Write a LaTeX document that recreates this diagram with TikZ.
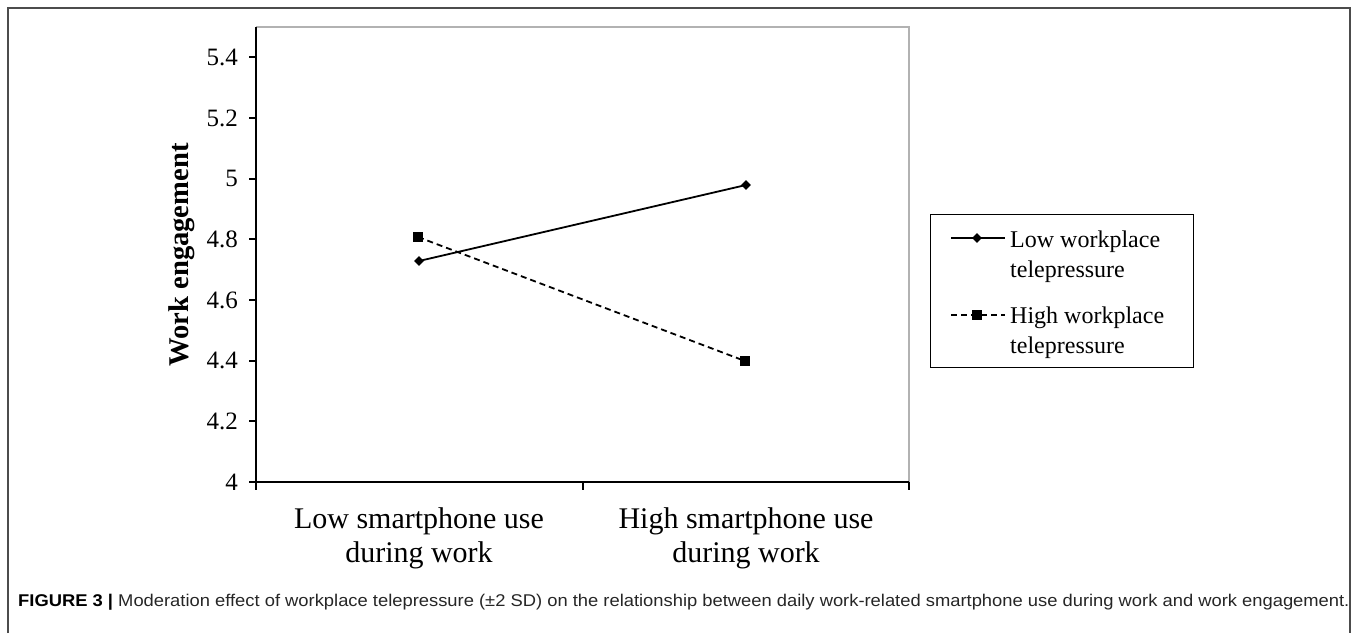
\documentclass[tikz,border=0pt]{standalone}
\usepackage{fontspec}
\setmainfont{Liberation Serif}
\newfontfamily\captionfont[FakeStretch=1.08]{Liberation Sans}
\usetikzlibrary{shapes.geometric,backgrounds}
\newcommand{\linecolor}{black}
\newcommand{\boxcolor}{gray!60}
\newcommand{\thickness}{1.8pt}
\newcommand{\marksize}{10pt}

\begin{document}
\begin{tikzpicture}[x=1pt,y=-1pt]
\useasboundingbox (0,0) rectangle (1358,633);
%frame
\draw[black!70] [line width = 1.2pt] (8,633) -- (8,8) -- (1350,8) -- (1350,633);
%plot area
\coordinate (o) at (256,482);
\coordinate (tl) at (256,27);
\coordinate (tr) at (909,27);
\coordinate (br) at (909,482);
\draw[\boxcolor] [line width = 1.5pt] (tl) -- (tr) -- (br);
\draw[\linecolor] [line width = \thickness] (tl) -- (o) -- (br);
%y ticks
\draw[\linecolor] [line width = \thickness] (249,482.0) -- (o);
\draw[\linecolor] [line width = \thickness] (249,421.3) -- (256,421.3);
\draw[\linecolor] [line width = \thickness] (249,360.7) -- (256,360.7);
\draw[\linecolor] [line width = \thickness] (249,300.0) -- (256,300.0);
\draw[\linecolor] [line width = \thickness] (249,239.3) -- (256,239.3);
\draw[\linecolor] [line width = \thickness] (249,178.7) -- (256,178.7);
\draw[\linecolor] [line width = \thickness] (249,118.0) -- (256,118.0);
\draw[\linecolor] [line width = \thickness] (249,57.3) -- (256,57.3);
\node[anchor=east, inner sep=0, font=\fontsize{25}{28}\selectfont] (t40) at (238,482.0) {4};
\node[anchor=east, inner sep=0, font=\fontsize{25}{28}\selectfont] (t42) at (238,421.3) {4.2};
\node[anchor=east, inner sep=0, font=\fontsize{25}{28}\selectfont] (t44) at (238,360.7) {4.4};
\node[anchor=east, inner sep=0, font=\fontsize{25}{28}\selectfont] (t46) at (238,300.0) {4.6};
\node[anchor=east, inner sep=0, font=\fontsize{25}{28}\selectfont] (t48) at (238,239.3) {4.8};
\node[anchor=east, inner sep=0, font=\fontsize{25}{28}\selectfont] (t50) at (238,178.7) {5};
\node[anchor=east, inner sep=0, font=\fontsize{25}{28}\selectfont] (t52) at (238,118.0) {5.2};
\node[anchor=east, inner sep=0, font=\fontsize{25}{28}\selectfont] (t54) at (238,57.3) {5.4};
%x ticks
\draw[\linecolor] [line width = \thickness] (o) -- (256,490);
\draw[\linecolor] [line width = \thickness] (583,482) -- (583,490);
\draw[\linecolor] [line width = \thickness] (br) -- (909,490);
\node[anchor=north, align=center, inner sep=0, font=\fontsize{30}{34}\selectfont] (catlow) at (419,507.5) {Low smartphone use\\during work};
\node[anchor=north, align=center, inner sep=0, font=\fontsize{30}{34}\selectfont] (cathigh) at (746,507.5) {High smartphone use\\during work};
\node[rotate=90, inner sep=0, font=\bfseries\fontsize{28.6}{34}\selectfont] (ylabel) at (182,255) {Work engagement};
%data
\node[fill] (1) at (419,261) [diamond, inner sep=0, minimum size=\marksize] {};
\node[fill] (2) at (746,185) [diamond, inner sep=0, minimum size=\marksize] {};
\node[fill] (3) at (418,237) [rectangle, inner sep=0, minimum size=\marksize] {};
\node[fill] (4) at (745,361) [rectangle, inner sep=0, minimum size=\marksize] {};
\begin{scope}[on background layer]
\draw[\linecolor] [line width = \thickness] (1.center) -- (2.center);
\draw[\linecolor] [line width = \thickness, dash pattern = on 6pt off 4pt] (3.center) -- (4.center);
\end{scope}
%legend
\node[draw, line width = 1.2pt, inner sep=0, minimum width=263pt, minimum height=153pt, anchor=north west] (legend) at (930,214) {};
\coordinate (l1a) at (951,238);
\coordinate (l1b) at (1005,238);
\coordinate (l2a) at (951,315);
\coordinate (l2b) at (1005,315);
\node[fill] (5) at (977,238) [diamond, inner sep=0, minimum size=\marksize] {};
\node[fill] (6) at (977,315) [rectangle, inner sep=0, minimum size=\marksize] {};
\begin{scope}[on background layer]
\draw[\linecolor] [line width = \thickness] (l1a) -- (l1b);
\draw[\linecolor] [line width = \thickness, dash pattern = on 6pt off 4pt] (l2a) -- (l2b);
\end{scope}
\node[anchor=north west, align=left, inner sep=0, font=\fontsize{24}{30}\selectfont] (lowtext) at (1010,230.6) {Low workplace\\telepressure};
\node[anchor=north west, align=left, inner sep=0, font=\fontsize{24}{30}\selectfont] (hightext) at (1010,306.6) {High workplace\\telepressure};
%caption
\node[anchor=base west, inner sep=0, text=black!85, font=\captionfont\fontsize{17}{20}\selectfont] (caption) at (18,606) {\textcolor{black}{\textbf{FIGURE 3 |}} Moderation effect of workplace telepressure (±2 SD) on the relationship between daily work-related smartphone use during work and work engagement.};
\end{tikzpicture}
\end{document}
